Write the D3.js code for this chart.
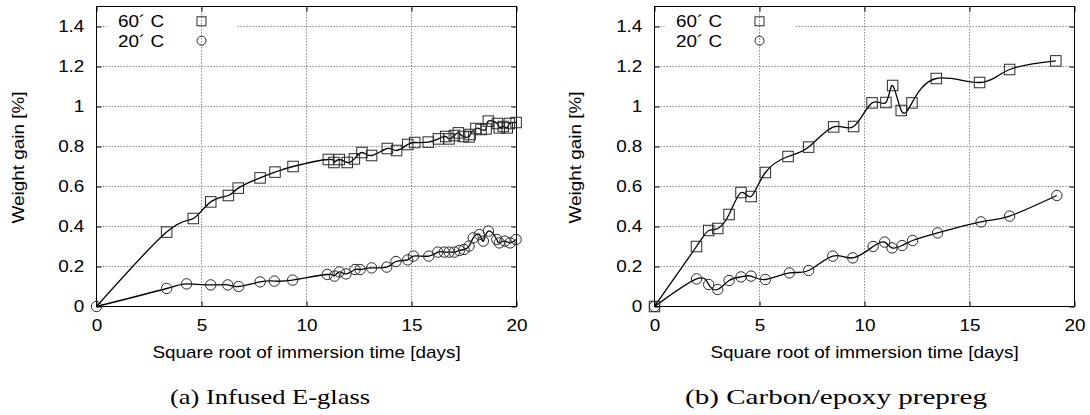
<!DOCTYPE html>
<html>
<head>
<meta charset="utf-8">
<script src="https://cdn.jsdelivr.net/npm/d3@7"></script>
<style>
	body { margin: 0; background: #fff; }
	svg { display: block; font-family: 'Liberation Sans', Arial, sans-serif; }
</style>
</head>
<body>
<svg id="chart" width="1090" height="415"></svg>
<script>
// (a) infused E-glass
const glassX60 = [0, 3.34, 4.61, 5.44, 6.28, 6.75, 7.79, 8.5, 9.36, 11.04, 11.31, 11.56, 11.94, 12.28, 12.64, 13.1, 13.85, 14.29, 14.82, 15.15, 15.8, 16.28, 16.63, 16.79, 17.04, 17.23, 17.47, 17.74, 17.79, 18.07, 18.31, 18.55, 18.66, 19.09, 19.18, 19.37, 19.56, 19.66, 19.98]
const glassY60 = [0, 0.372, 0.44, 0.523, 0.555, 0.592, 0.643, 0.672, 0.70, 0.735, 0.72, 0.735, 0.72, 0.738, 0.77, 0.755, 0.79, 0.78, 0.81, 0.82, 0.822, 0.838, 0.85, 0.838, 0.855, 0.868, 0.85, 0.848, 0.86, 0.89, 0.885, 0.888, 0.927, 0.915, 0.893, 0.9, 0.893, 0.915, 0.92]
const glassX20 = [0, 3.34, 4.29, 5.44, 6.25, 6.77, 7.79, 8.47, 9.34, 10.99, 11.33, 11.56, 11.88, 12.31, 12.55, 13.1, 13.82, 14.26, 14.82, 15.09, 15.82, 16.25, 16.56, 16.79, 17.04, 17.28, 17.5, 17.74, 17.94, 18.23, 18.42, 18.66, 19.06, 19.18, 19.45, 19.69, 19.98]
const glassY20 = [0, 0.09, 0.113, 0.108, 0.108, 0.10, 0.123, 0.127, 0.132, 0.16, 0.152, 0.173, 0.163, 0.185, 0.185, 0.193, 0.197, 0.225, 0.233, 0.252, 0.252, 0.272, 0.272, 0.272, 0.272, 0.28, 0.285, 0.302, 0.343, 0.36, 0.327, 0.377, 0.335, 0.318, 0.327, 0.318, 0.335]

// (b) carbon/epoxy prepreg
const prepregX60 = [0, 2.0, 2.58, 3.01, 3.55, 4.12, 4.6, 5.28, 6.36, 7.34, 8.53, 9.48, 10.36, 11.02, 11.34, 11.75, 12.26, 13.42, 15.48, 16.91, 19.11]
const prepregY60 = [0, 0.30, 0.38, 0.39, 0.46, 0.57, 0.55, 0.67, 0.75, 0.797, 0.898, 0.90, 1.018, 1.02, 1.105, 0.98, 1.018, 1.14, 1.12, 1.185, 1.228]
const prepregX20 = [0, 2.0, 2.58, 3.01, 3.55, 4.12, 4.6, 5.28, 6.42, 7.34, 8.49, 9.44, 10.41, 10.96, 11.31, 11.79, 12.29, 13.48, 15.55, 16.91, 19.16]
const prepregY20 = [0, 0.138, 0.11, 0.085, 0.13, 0.148, 0.152, 0.135, 0.168, 0.18, 0.252, 0.243, 0.30, 0.322, 0.293, 0.305, 0.33, 0.368, 0.423, 0.452, 0.555]

const xTicks = [0, 5, 10, 15, 20]
const yTicks = [0, 0.2, 0.4, 0.6, 0.8, 1, 1.2, 1.4]
const xGrid = [5, 10, 15]
const yGrid = [0.2, 0.4, 0.6, 0.8, 1, 1.2, 1.4]
const seriesLabels = ['60\u00b4 C', '20\u00b4 C']
const xTitle = 'Square root of immersion time [days]'
const yTitle = 'Weight gain [%]'
const captions = ['(a) Infused E-glass', '(b) Carbon/epoxy prepreg']

const svg = d3.select('#chart')
const stretch = 1.18
const gridColor = '#8a8a8a'
const markColor = '#2a2a2a'

const zip = (xs, ys) => xs.map((v, i) => ({ x: v, y: ys[i] }))

const panels = [
	{ left: 96.5, right: 516.5, ylab: 23.5, caption: 170, capWidth: 200, s60: zip(glassX60, glassY60), s20: zip(glassX20, glassY20), firstSquare: 1 },
	{ left: 654.5, right: 1074.5, ylab: 581, caption: 685, capWidth: 302, s60: zip(prepregX60, prepregY60), s20: zip(prepregX20, prepregY20), firstSquare: 0 }
]

const drawPanel = (p, idx) => {
	const x = d3.scaleLinear().domain([0, 20]).range([p.left, p.right])
	const y = d3.scaleLinear().domain([0, 1.5]).range([306.5, 6.5])
	const g = svg.append('g')

	// horizontal grid
	g.selectAll('line.hgrid')
		.data(yGrid)
		.enter()
		.append('line')
			.attr('class', 'hgrid')
			.attr('x1', x(0)).attr('x2', x(20))
			.attr('y1', d => y(d)).attr('y2', d => y(d))
			.attr('stroke', gridColor)
			.attr('stroke-dasharray', '1.5,1.5')

	// key box blanks the grid behind the text
	g.append('rect')
		.attr('x', x(0) + 10)
		.attr('y', 13)
		.attr('width', 131)
		.attr('height', 38)
		.attr('fill', '#fff')

	g.selectAll('line.vgrid')
		.data(xGrid)
		.enter()
		.append('line')
			.attr('class', 'vgrid')
			.attr('x1', d => x(d)).attr('x2', d => x(d))
			.attr('y1', y(0)).attr('y2', y(1.5))
			.attr('stroke', gridColor)
			.attr('stroke-dasharray', '1.5,1.5')

	const fmt = d => String(+d.toFixed(1))

	const bottom = g.append('g')
		.attr('transform', `translate(0,${y(0)})`)
		.call(d3.axisBottom(x).tickValues(xTicks).tickSize(-5).tickPadding(13.5).tickFormat(fmt))
	const top = g.append('g')
		.attr('transform', `translate(0,${y(1.5)})`)
		.call(d3.axisTop(x).tickValues(xTicks).tickSize(-5).tickFormat(''))
	const left = g.append('g')
		.attr('transform', `translate(${x(0)},0)`)
		.call(d3.axisLeft(y).tickValues(yTicks).tickSize(-5).tickPadding(10.3).tickFormat(fmt))
	const right = g.append('g')
		.attr('transform', `translate(${x(20)},0)`)
		.call(d3.axisRight(y).tickValues(yTicks).tickSize(-5).tickFormat(''))

	;[bottom, top, left, right].forEach(a => {
		a.select('path.domain').remove()
		a.selectAll('.tick line').attr('stroke', '#000')
		a.selectAll('.tick text')
			.attr('fill', '#000')
			.style('font-size', '16px')
			.style('font-family', "'Liberation Sans', Arial, sans-serif")
			.attr('transform', `scale(${stretch},1)`)
	})

	g.append('rect')
		.attr('x', x(0)).attr('y', y(1.5))
		.attr('width', x(20) - x(0)).attr('height', y(0) - y(1.5))
		.attr('fill', 'none')
		.attr('stroke', '#000')

	const line = d3.line()
		.x(d => x(d.x))
		.y(d => y(d.y))
		.curve(d3.curveNatural)

	;[p.s60, p.s20].forEach(s => {
		g.append('path')
			.attr('d', line(s))
			.attr('fill', 'none')
			.attr('stroke', '#000')
			.attr('stroke-width', 1.3)
	})

	g.selectAll('rect.sq')
		.data(p.s60.slice(p.firstSquare))
		.enter()
		.append('rect')
			.attr('class', 'sq')
			.attr('x', d => x(d.x) - 5.25)
			.attr('y', d => y(d.y) - 5.25)
			.attr('width', 10.5)
			.attr('height', 10.5)
			.attr('fill', 'none')
			.attr('stroke', markColor)

	g.selectAll('circle.ci')
		.data(p.s20)
		.enter()
		.append('circle')
			.attr('class', 'ci')
			.attr('cx', d => x(d.x))
			.attr('cy', d => y(d.y))
			.attr('r', 5.2)
			.attr('fill', 'none')
			.attr('stroke', markColor)

	// key
	const keyY = [27.3, 46.7]
	seriesLabels.forEach((t, i) => {
		g.append('text')
			.attr('transform', `translate(${x(0) + 21.5},${keyY[i]}) scale(${stretch},1)`)
			.style('font-size', '16px')
			.text(t)
	})
	g.append('rect')
		.attr('x', x(5) - 4.5).attr('y', 21.3 - 4.5)
		.attr('width', 9).attr('height', 9)
		.attr('fill', 'none')
		.attr('stroke', markColor)
	g.append('circle')
		.attr('cx', x(5)).attr('cy', 40.7)
		.attr('r', 4.5)
		.attr('fill', 'none')
		.attr('stroke', markColor)

	g.append('text')
		.attr('transform', `translate(${(x(0) + x(20)) / 2},358) scale(${stretch},1)`)
		.attr('text-anchor', 'middle')
		.style('font-size', '16px')
		.text(xTitle)

	g.append('text')
		.attr('transform', `translate(${p.ylab},157.5) rotate(-90) scale(${stretch},1)`)
		.attr('text-anchor', 'middle')
		.style('font-size', '16px')
		.text(yTitle)

	g.append('text')
		.attr('x', p.caption)
		.attr('y', 404)
		.attr('textLength', p.capWidth)
		.attr('lengthAdjust', 'spacingAndGlyphs')
		.style('font-size', '21px')
		.style('font-family', "'Liberation Serif', 'Times New Roman', serif")
		.text(captions[idx])
}

panels.forEach(drawPanel)
</script>
</body>
</html>
